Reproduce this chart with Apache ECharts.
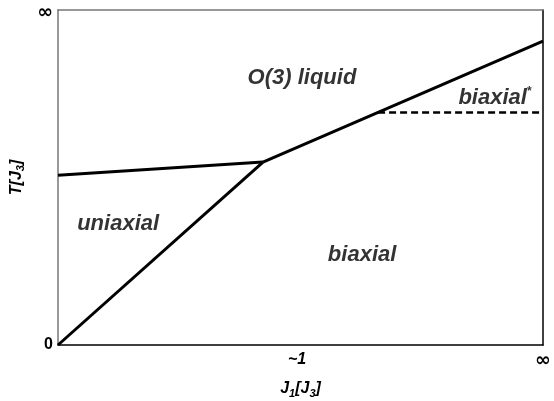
<!DOCTYPE html>
<html>
<head>
<meta charset="utf-8">
<script src="https://cdn.jsdelivr.net/npm/echarts@6/dist/echarts.min.js"></script>
<style>
  html, body { margin: 0; padding: 0; background: #fff; }
  #chart { width: 554px; height: 401px; }
</style>
</head>
<body>
<div id="chart"></div>
<script>
// phase boundaries, in scaled units (0 .. 1 on both axes, 1 = infinity)
var uniaxialLine = [[0, 0], [0.4227, 0.546]]
var lowerLine = [[0, 0.507], [0.4227, 0.546]]
var upperLine = [[0.4227, 0.546], [1, 0.907]]
var dashedLine = [[0.66, 0.694], [1, 0.694]]

// tick positions and texts
var xTicks = [0.493, 1]
var xTickText = ['{i|~1}', '{n|∞}']
var yTicks = [0, 1]
var yTickText = ['{b|0}', '{m|∞}']

// region labels
var regionNames = ['{t|O(3) liquid}', '{t|biaxial}{s|*}', '{t|uniaxial}', '{t|biaxial}']
var regionPos = [[0.503, 0.797], [0.901, 0.737], [0.124, 0.361], [0.627, 0.269]]

var font = 'Liberation Sans, Arial, sans-serif'

function tickText(list, ticks) {
  return function(v) {
    for (var i = 0; i < ticks.length; i++) {
      if (Math.abs(ticks[i] - v) < 1e-6) return list[i]
    }
    return ''
  }
}

var tickRich = {
  i: { fontFamily: font, fontWeight: 'bold', fontStyle: 'italic', fontSize: 16, color: '#000' },
  b: { fontFamily: font, fontWeight: 'bold', fontSize: 16, color: '#000' },
  n: { fontFamily: 'DejaVu Sans', fontWeight: 'bold', fontSize: 19, color: '#000' },
  m: { fontFamily: 'DejaVu Sans', fontWeight: 'bold', fontSize: 19, color: '#000', padding: [7, 0, 0, 0] }
}

var nameRich = {
  a: { fontFamily: font, fontWeight: 'bold', fontStyle: 'italic', fontSize: 16, color: '#000' },
  s: { fontFamily: font, fontWeight: 'bold', fontStyle: 'italic', fontSize: 11, color: '#000', padding: [9, 0, 0, 0] }
}

function lineSeries(data, dashed) {
  return {
    type: 'line',
    data: data,
    showSymbol: false,
    silent: true,
    lineStyle: { color: '#000', width: dashed ? 2.5 : 3, type: dashed ? [7, 4] : 'solid' }
  }
}

var chart = echarts.init(document.getElementById('chart'))
chart.setOption({
  animation: false,
  grid: { left: 58, top: 10, right: 11, bottom: 56, outerBoundsMode: 'none', containLabel: false },
  xAxis: [
    {
      type: 'value', min: 0, max: 1, position: 'bottom',
      axisLine: { onZero: false, lineStyle: { color: '#000', width: 1.5 } },
      axisTick: { show: false },
      splitLine: { show: false },
      axisLabel: {
        customValues: xTicks,
        formatter: tickText(xTickText, xTicks),
        rich: tickRich,
        margin: 7
      },
      name: '{a|J}{s|1}{a|[J}{s|3}{a|]}',
      nameLocation: 'middle',
      nameGap: 34,
      nameTextStyle: { rich: nameRich }
    },
    {
      type: 'value', min: 0, max: 1, position: 'top',
      axisLine: { onZero: false, lineStyle: { color: '#777', width: 1.5 } },
      axisTick: { show: false }, axisLabel: { show: false }, splitLine: { show: false }
    }
  ],
  yAxis: [
    {
      type: 'value', min: 0, max: 1, position: 'left',
      axisLine: { onZero: false, lineStyle: { color: '#777', width: 1.5 } },
      axisTick: { show: false },
      splitLine: { show: false },
      axisLabel: {
        customValues: yTicks,
        formatter: tickText(yTickText, yTicks),
        rich: tickRich,
        margin: 5
      },
      name: '{a|T[J}{s|3}{a|]}',
      nameLocation: 'middle',
      nameGap: 23,
      nameTextStyle: { rich: nameRich }
    },
    {
      type: 'value', min: 0, max: 1, position: 'right',
      axisLine: { onZero: false, lineStyle: { color: '#000', width: 1.5 } },
      axisTick: { show: false }, axisLabel: { show: false }, splitLine: { show: false }
    }
  ],
  series: [
    lineSeries(uniaxialLine),
    lineSeries(lowerLine),
    lineSeries(upperLine),
    lineSeries(dashedLine, true),
    {
      type: 'scatter',
      symbolSize: 0,
      silent: true,
      data: regionPos.map(function(p, i) {
        return { value: p, label: { formatter: regionNames[i] } }
      }),
      label: {
        show: true,
        position: 'inside',
        rich: {
          t: { fontFamily: font, fontWeight: 'bold', fontStyle: 'italic', fontSize: 22, color: '#000' },
          s: { fontFamily: font, fontWeight: 'bold', fontSize: 12, color: '#000', padding: [0, 0, 12, 0] }
        }
      }
    }
  ]
})
</script>
</body>
</html>
